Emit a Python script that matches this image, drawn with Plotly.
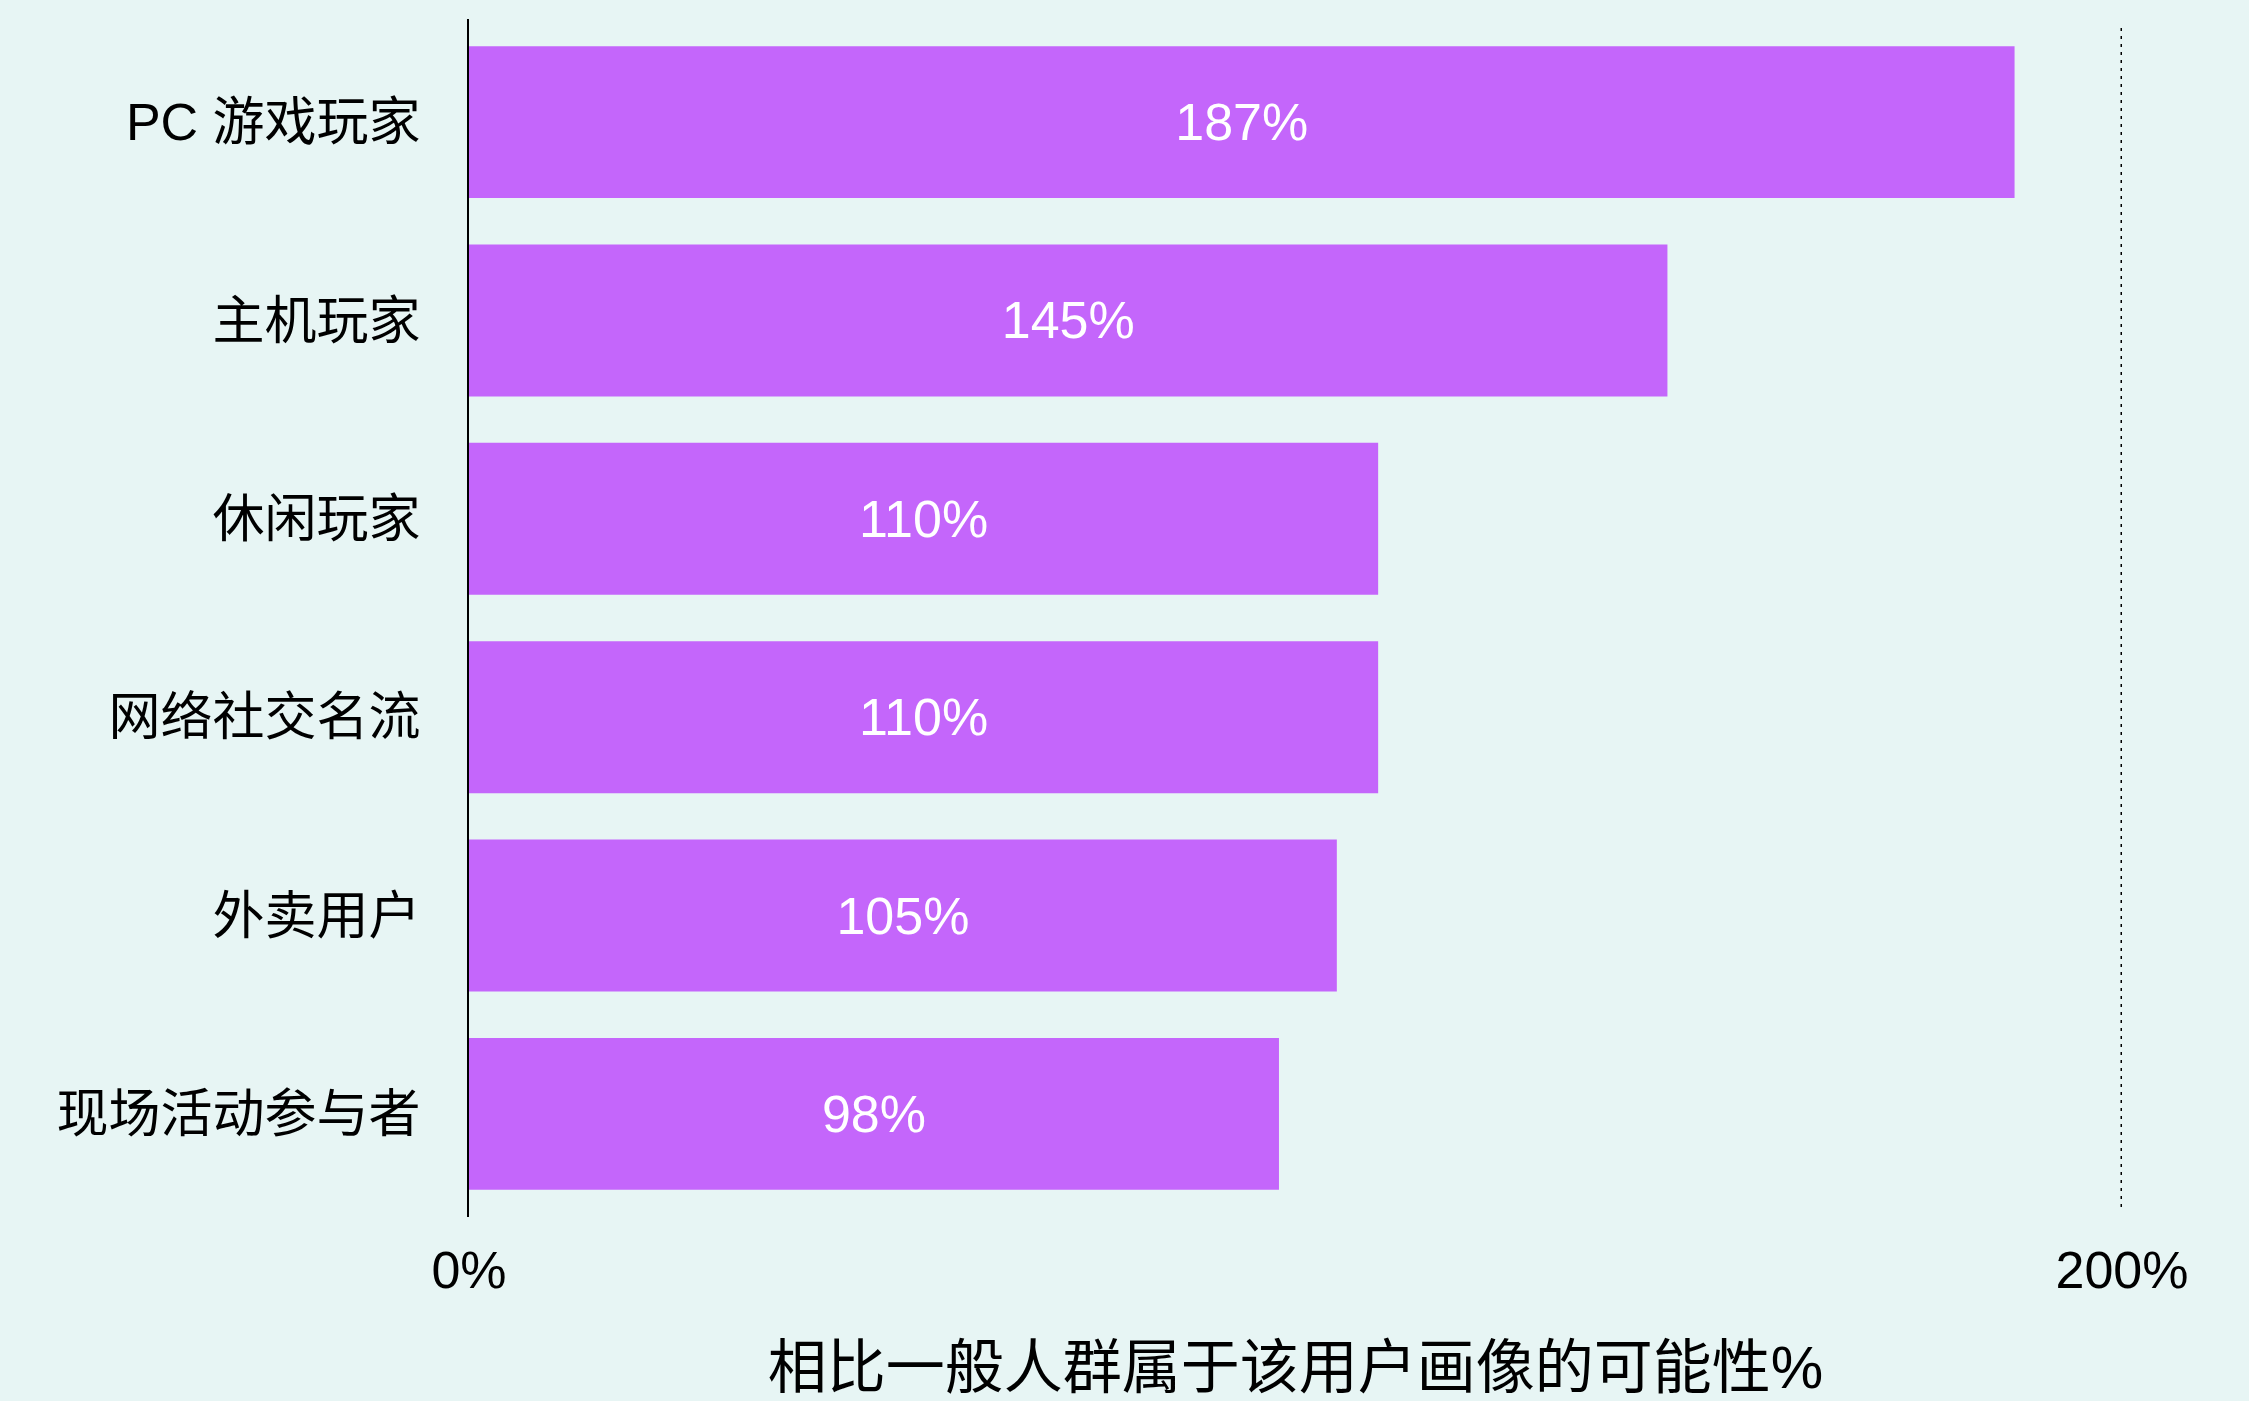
import plotly.graph_objects as go

categories = ["PC 游戏玩家", "主机玩家", "休闲玩家", "网络社交名流", "外卖用户", "现场活动参与者"]
values = [187, 145, 110, 110, 105, 98]
labels = ["187%", "145%", "110%", "110%", "105%", "98%"]
tick_vals = [0, 200]
tick_text = ["0%", "200%"]
axis_title = "相比一般人群属于该用户画像的可能性%"

FONT = "Liberation Sans, Noto Sans CJK SC, sans-serif"
BG = "#E7F5F4"
BAR = "#C466FB"

fig = go.Figure(go.Bar(
    x=values, y=categories, orientation="h",
    marker=dict(color=BAR, line=dict(width=0)),
    text=labels, textposition="inside", insidetextanchor="middle",
    textfont=dict(color="white", size=52, family=FONT),
    hoverinfo="skip",
))

fig.add_shape(type="line", xref="x", yref="paper", x0=200, x1=200, y0=0.0083, y1=0.9967,
              line=dict(color="black", width=3, dash="3px,5px"))

fig.update_layout(
    width=2249, height=1401,
    paper_bgcolor=BG, plot_bgcolor=BG,
    margin=dict(l=469, r=127, t=19, b=184),
    bargap=0.234,
    showlegend=False,
    font=dict(family=FONT, color="black", size=52),
    xaxis=dict(range=[0, 200], tickvals=tick_vals, ticktext=tick_text, showgrid=False,
               zeroline=False, showline=False, ticks="", ticklabelstandoff=18,
               tickfont=dict(size=52, family=FONT),
               title=dict(text=axis_title, font=dict(size=59, family=FONT), standoff=48)),
    yaxis=dict(categoryorder="array", categoryarray=categories, autorange=False,
               range=[5.52, -0.52], showgrid=False, zeroline=False,
               showline=True, linecolor="black", linewidth=2, ticks="",
               ticklabelstandoff=36, tickfont=dict(size=52, family=FONT)),
)

fig.write_html("out.html", config={"displayModeBar": False},
               post_script="document.body.style.margin='0';document.body.style.padding='0';"
                           "document.body.style.overflow='hidden';")
